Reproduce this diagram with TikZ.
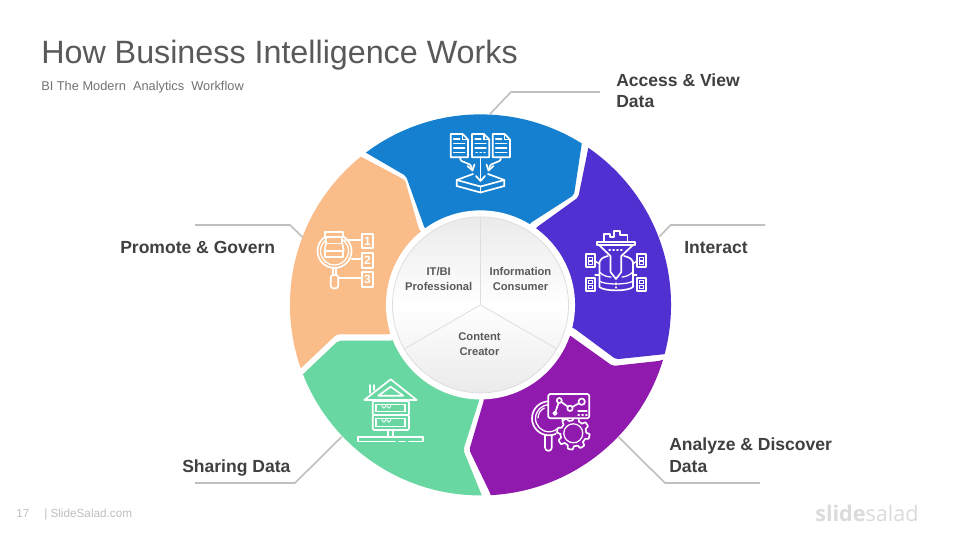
\documentclass[tikz,border=0pt]{standalone}
\usepackage{fontspec}
\setmainfont{Liberation Sans}
\newfontfamily\logofont{Open Sans}
\definecolor{cblue}{HTML}{1580CF}
\definecolor{cindigo}{HTML}{5030D0}
\definecolor{cpurple}{HTML}{9019AE}
\definecolor{cgreen}{HTML}{68D7A2}
\definecolor{corange}{HTML}{FABD8A}
\definecolor{ctitle}{HTML}{595959}
\definecolor{clabel}{HTML}{404040}
\definecolor{cleader}{HTML}{BFBFBF}
\tikzset{
  x=0.75pt,y=-0.75pt,
  seg/.style={rounded corners=1.6pt},
  lead/.style={draw=cleader,line width=1.2pt},
  heading/.style={anchor=base west,inner sep=0pt,text=clabel,font=\fontsize{13.15}{16}\selectfont\bfseries},
  core/.style={align=center,inner sep=0pt,text=ctitle,font=\fontsize{8.4}{11.2}\selectfont\bfseries},
  spoke/.style={draw=black!13,line width=0.6pt},
  ic/.style={draw=white,line width=1.25pt,line join=round,line cap=round},
  thin/.style={draw=white,line width=0.95pt,line cap=round},
  fine/.style={draw=white,line width=0.6pt},
  digit/.style={text=white,inner sep=0pt,font=\fontsize{9}{9}\selectfont\bfseries},
  foot/.style={anchor=base west,inner sep=0pt,text=cleader,font=\fontsize{8.8}{11}\selectfont}
}
\begin{document}
\begin{tikzpicture}
\useasboundingbox[fill=white] (0,0) rectangle (960,540);
% ---- ring segments
\coordinate (c) at (480.5,304.9);
\begin{scope}
\clip (c) circle [radius=142.9pt];
\fill[cblue,seg] (326,129.4) -- (400,40) -- (560,40) -- (589.4,93) -- (574,195) -- (530,223.3) -- (c) -- (424.3,227.3) -- (406,176) -- cycle;
\fill[cindigo,seg] (540,110) -- (700,110) -- (700,340) -- (666,354) -- (616,359.3) -- (573.3,327.7) -- (c) -- (536.7,227.3) -- (578.3,197.3) -- (598,100) -- cycle;
\fill[cpurple,seg] (700,340) -- (720,520) -- (500,540) -- (490.7,494.3) -- (469.3,450) -- (484,400) -- (c) -- (569.3,335) -- (612.7,366) -- (661,360.7) -- cycle;
\fill[cgreen,seg] (500,540) -- (250,520) -- (260,415) -- (338.3,340.7) -- (391.7,340.7) -- (c) -- (479.3,400) -- (463.3,450) -- cycle;
\fill[corange,seg] (260,407) -- (240,120) -- (320,135) -- (405,180) -- (419,229.3) -- (c) -- (389,334.3) -- (336.7,334.3) -- cycle;
\end{scope}
% ---- hub
\fill[white] (c) circle [radius=70.9pt];
\shade[top color=black!8,bottom color=black!8,middle color=white] (c) circle [radius=66pt];
\draw[spoke] (c) circle [radius=66pt];
\coordinate (hubN) at (480.5,217);
\coordinate (hubW) at (404.3,348.9);
\coordinate (hubE) at (556.7,348.9);
\draw[spoke] (c) -- (hubN);
\draw[spoke] (c) -- (hubW);
\draw[spoke] (c) -- (hubE);
\node[core] (itbi) at (438.7,279) {IT/BI\\Professional};
\node[core] (info) at (520.5,279) {Information\\Consumer};
\node[core] (cc) at (479.5,344) {Content\\Creator};
% ---- titles
\node[anchor=base west,inner sep=0pt,text=ctitle,font=\fontsize{24.2}{28}\selectfont] (title) at (41,63) {How Business Intelligence Works};
\node[anchor=base west,inner sep=0pt,text=black!55,font=\fontsize{9.6}{11}\selectfont] (subtitle) at (41,90.5) {BI The Modern\ \ Analytics\ \ Workflow};
% ---- labels and leaders
\node[heading] (l1a) at (616,86) {Access \& View};
\node[heading] (l1b) at (616,107) {Data};
\node[heading] (l2) at (684,253) {Interact};
\node[heading] (l3a) at (669,450) {Analyze \& Discover};
\node[heading] (l3b) at (669,472) {Data};
\node[heading] (l4) at (182,472) {Sharing Data};
\node[heading] (l5) at (120,253) {Promote \& Govern};
\coordinate (a1) at (490,114); \coordinate (a2) at (511,92); \coordinate (a3) at (600,92);
\coordinate (b1) at (659.3,236.7); \coordinate (b2) at (670.7,225); \coordinate (b3) at (765,225);
\coordinate (d1) at (618.3,436.7); \coordinate (d2) at (665,483); \coordinate (d3) at (760,483);
\coordinate (e1) at (341.7,436.7); \coordinate (e2) at (295,483); \coordinate (e3) at (195,483);
\coordinate (f1) at (302.7,237.3); \coordinate (f2) at (290,225); \coordinate (f3) at (195,225);
\draw[lead] (a1) -- (a2) -- (a3);
\draw[lead] (b1) -- (b2) -- (b3);
\draw[lead] (d1) -- (d2) -- (d3);
\draw[lead] (e1) -- (e2) -- (e3);
\draw[lead] (f1) -- (f2) -- (f3);
% ---- icon: documents into tray
\foreach \dx/\mode in {450.7/0,472/1,492.7/0}{
\begin{scope}[shift={(\dx,134)}]
\draw[ic] (0,0) -- (12,0) -- (17.3,5.5) -- (17.3,23.3) -- (0,23.3) -- cycle;
\draw[thin] (12,0) -- (12,5.5) -- (17.3,5.5);
\draw[thin] (3,5) -- (9,5);
\draw[thin] (3,9.5) -- (14,9.5);
\draw[thin] (3,14) -- (14,14);
\ifnum\mode=0 \draw[thin] (3,18.5) -- (14,18.5); \else \draw[thin,dotted] (4,18.5) -- (14,18.5); \fi
\end{scope}}
\draw[ic] (480.5,157.3) -- (480.5,180);
\draw[ic] (476,176) -- (480.5,181) -- (485,176);
\draw[ic] (460,157.3) .. controls (460,165) and (471,160) .. (472,169);
\draw[ic] (467.5,166) -- (472.5,170.5) -- (474.5,164.5);
\draw[ic] (501,157.3) .. controls (501,165) and (490,160) .. (489,169);
\draw[ic] (493.5,166) -- (488.5,170.5) -- (486.5,164.5);
\draw[ic] (473,174) -- (456.7,180) -- (480.5,186.5) -- (504.3,180) -- (488,174);
\draw[ic] (456.7,180) -- (456.7,186) -- (480.5,192.5) -- (504.3,186) -- (504.3,180);
\draw[ic] (480.5,186.5) -- (480.5,192.5);
% ---- icon: funnel and database
\draw[ic] (599.5,262) -- (599.5,287) .. controls (604,291.5) and (628,291.5) .. (633,287) -- (633,262);
\draw[ic] (599.5,262) .. controls (601,258) and (604,257) .. (608,256);
\draw[ic] (633,262) .. controls (631.5,258) and (628,257) .. (624,256);
\draw[thin] (599.5,272) .. controls (603,276) and (608,277) .. (611,277);
\draw[thin] (633,272) .. controls (629,276) and (624,277) .. (622,277);
\draw[thin] (599.5,281) .. controls (604,285) and (628,285) .. (633,281);
\draw[ic] (604,241.7) -- (604,234) -- (610,234) -- (610,237) -- (614,237) -- (614,231) -- (620,231) -- (620,235) -- (627.5,235) -- (627.5,241.7);
\draw[ic] (596.8,241.7) rectangle (635,245);
\draw[ic] (599,245) -- (610.5,256) -- (610.5,272) -- (616,279) -- (621.3,272) -- (621.3,256) -- (633,245);
\draw[thin,dotted] (609,250) -- (622,250);
\draw[thin,dotted] (616,283) -- (616,288);
\foreach \bx/\by in {585.7/254.3,636.7/254.3,585.7/277.7,636.7/277.7}{
\draw[ic] (\bx,\by) rectangle ++(9.3,13);
\draw[fine] (\bx+3.1,\by+2.8) rectangle ++(3.1,2.8);
\draw[fine] (\bx+3.1,\by+7.4) rectangle ++(3.1,2.8);}
\draw[thin] (595,261) -- (599.5,264);
\draw[thin] (636.7,261) -- (633,264);
\draw[thin] (595,275) -- (599.5,275);
\draw[thin] (636.7,275) -- (633,275);
% ---- icon: magnifier, gear, chart
\draw[ic] (549,418.3) circle [radius=17];
\draw[thin] (549,418.3) circle [radius=13.5];
\draw[thin] (538,418) arc [start angle=180,end angle=245,radius=11];
\draw[ic] (545,435.5) -- (545,447.5) arc [start angle=180,end angle=0,radius=3.4] -- (551.8,435.5);
\fill[cpurple] (573.3,433.3) circle [radius=17];
\draw[ic,fill=cpurple] plot[domain=0:360,samples=121] ({573.3+(14.6+1.7*max(-1,min(1,3*sin(8*\x))))*cos(\x)},{433.3+(14.6+1.7*max(-1,min(1,3*sin(8*\x))))*sin(\x)}) -- cycle;
\draw[thin] (573.3,433.3) circle [radius=9.5];
\draw[ic,fill=cpurple,rounded corners=1.2pt] (548.3,394) rectangle (589.3,418.3);
\coordinate (g1) at (555,413.3); \coordinate (g2) at (559.3,400.5); \coordinate (g3) at (570,408.3); \coordinate (g4) at (581.7,401.7);
\draw[ic] (g1) -- (g2) -- (g3) -- (g4);
\foreach \g/\r in {g1/1.7,g2/2.5,g3/2.7,g4/3.2}{\draw[ic,fill=cpurple] (\g) circle [radius=\r];}
\draw[thin] (578,411) -- (587,411);
\draw[thin,dotted] (578,415) -- (587,415);
% ---- icon: house with server racks
\draw[ic] (370.2,393) -- (370.2,385);
\draw[ic] (374.3,390) -- (374.3,385);
\draw[ic] (364.3,400) -- (390.7,379.3) -- (416.7,400) -- cycle;
\draw[ic] (378.3,395.7) -- (390.7,386.7) -- (403.3,395.7) -- cycle;
\draw[ic,rounded corners=1pt] (372.7,401) rectangle (409,415);
\draw[ic,rounded corners=1pt] (372.7,415) rectangle (409,430);
\draw[thin] (376,404.5) rectangle (405,411.7);
\draw[thin] (376,418.5) rectangle (405,426.7);
\foreach \hx in {382,387}{
\draw[fine] (\hx,404.5) -- (\hx,406.2) arc [start angle=180,end angle=0,radius=1.9] -- (\hx+3.8,404.5);
\draw[fine] (\hx,418.5) -- (\hx,420.2) arc [start angle=180,end angle=0,radius=1.9] -- (\hx+3.8,418.5);}
\draw[ic] (388.3,430) -- (388.3,436.7);
\draw[ic] (393.3,430) -- (393.3,436.7);
\draw[ic] (358.3,436.7) -- (422.7,436.7);
\draw[ic] (358.3,436.7) -- (358.3,441.5) -- (395,441.5);
\draw[ic] (409,441.5) -- (422.7,441.5) -- (422.7,436.7);
\draw[ic] (399,441.5) -- (405,441.5);
% ---- icon: magnifier with numbered list
\draw[ic] (334.5,251) circle [radius=17];
\draw[thin] (334.5,251) circle [radius=14];
\draw[ic,fill=corange] (325,231.7) rectangle (343.3,237.3);
\draw[ic,fill=corange] (326,237.3) rectangle (342.3,243.5);
\draw[ic,fill=corange] (325,250.7) rectangle (343.3,256.7);
\draw[ic] (326,243.5) -- (324.5,250.7);
\draw[ic] (342.3,243.5) -- (343.8,250.7);
\draw[ic] (332.8,268) -- (332.8,275);
\draw[ic] (336.2,268) -- (336.2,275);
\draw[ic,rounded corners=2pt] (330.7,275) rectangle (338.3,288.3);
\draw[ic] (345,240) -- (361.7,240);
\draw[ic] (351.5,259.3) -- (361.7,259.3);
\draw[ic] (338.3,278.3) -- (361.7,278.3);
\draw[ic] (361.7,234) rectangle (373.3,248.3);
\draw[ic] (361.7,253.3) rectangle (373.3,267.7);
\draw[ic] (361.7,272.3) rectangle (373.3,286.7);
\node[digit] (n1) at (367.5,241.2) {1};
\node[digit] (n2) at (367.5,260.5) {2};
\node[digit] (n3) at (367.5,279.5) {3};
% ---- footer
\node[foot] (page) at (16,517.5) {17};
\node[foot] (site) at (44,517.5) {| SlideSalad.com};
\node[anchor=base west,inner sep=0pt,text=black!14,font=\fontsize{16.2}{20}\logofont] (logo) at (815,521) {\textbf{slide}salad};
\end{tikzpicture}
\end{document}
